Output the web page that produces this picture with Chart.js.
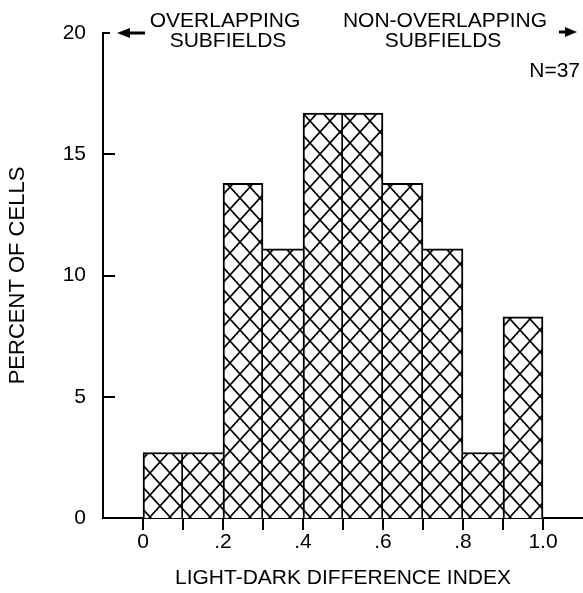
<!DOCTYPE html>
<html>
<head>
<meta charset="utf-8">
<script src="https://cdn.jsdelivr.net/npm/chart.js@4/dist/chart.umd.min.js"></script>
<style>
  html, body { margin: 0; padding: 0; background: #fff; }
  #wrap { width: 583px; height: 593px; }
</style>
</head>
<body>
<div id="wrap"><canvas id="c" width="583" height="593"></canvas></div>
<script>
// Histogram of the light-dark difference index (bins of width 0.1)
const binStarts = [0, 0.1, 0.2, 0.3, 0.4, 0.5, 0.6, 0.7, 0.8, 0.9];
const percentOfCells = [2.7, 2.7, 13.8, 11.1, 16.7, 16.7, 13.8, 11.1, 2.7, 8.3];
const binWidth = 0.1;

const xTickValues = [0, 0.1, 0.2, 0.3, 0.4, 0.5, 0.6, 0.7, 0.8, 0.9, 1.0];
const xTickLabels = ['0', '', '.2', '', '.4', '', '.6', '', '.8', '', '1.0'];
const yTickValues = [0, 5, 10, 15, 20];

const FONT = '"Liberation Sans", Arimo, Helvetica, Arial, sans-serif';

// Cross-hatched fill, anchored to the x = 0 / y = 0 corner of the plot
let hatch = null;
function crossHatch(chart) {
  if (hatch) return hatch;
  const w = 20, h = 22;
  const tile = document.createElement('canvas');
  tile.width = w; tile.height = h;
  const g = tile.getContext('2d');
  g.fillStyle = '#fff';
  g.fillRect(0, 0, w, h);
  g.strokeStyle = '#000';
  g.lineWidth = 1.7;
  for (const dx of [-w, 0, w]) {
    for (const dy of [-h, 0, h]) {
      g.beginPath();
      g.moveTo(dx, dy); g.lineTo(dx + w, dy + h);
      g.moveTo(dx + w, dy); g.lineTo(dx, dy + h);
      g.stroke();
    }
  }
  hatch = chart.ctx.createPattern(tile, 'repeat');
  const x0 = chart.scales.x.getPixelForValue(0);
  const y0 = chart.scales.y.getPixelForValue(0) - 3;
  hatch.setTransform(new DOMMatrix().translate(x0, y0));
  return hatch;
}

// Shared bar edges are drawn once, by the taller neighbour
function edgeWidths(ctx) {
  const i = ctx.dataIndex, v = percentOfCells, cur = v[i];
  const left = (i > 0 && v[i - 1] >= cur) ? 0 : 2;
  const right = (i < v.length - 1 && v[i + 1] > cur) ? 0 : 2;
  return { top: 2, left: left, right: right, bottom: 0 };
}

const decor = {
  id: 'decor',
  afterDraw(chart) {
    const { ctx, chartArea, scales } = chart;
    const ys = scales.y;
    const left = chartArea.left;
    ctx.save();
    ctx.strokeStyle = '#000';
    ctx.fillStyle = '#000';
    ctx.lineWidth = 2;
    ctx.lineCap = 'butt';

    // inward tick marks on the vertical axis
    yTickValues.forEach(v => {
      if (v === 0) return;
      const y = Math.round(ys.getPixelForValue(v));
      const len = v === 20 ? 7 : 12;
      ctx.beginPath();
      ctx.moveTo(left, y);
      ctx.lineTo(left + len, y);
      ctx.stroke();
    });

    const yTop = ys.getPixelForValue(20);

    // left-pointing arrow
    ctx.lineWidth = 3;
    ctx.beginPath();
    ctx.moveTo(left + 42, yTop);
    ctx.lineTo(left + 24, yTop);
    ctx.stroke();
    ctx.beginPath();
    ctx.moveTo(left + 14, yTop);
    ctx.lineTo(left + 27, yTop - 5);
    ctx.lineTo(left + 27, yTop + 5);
    ctx.closePath();
    ctx.fill();

    // right-pointing arrow
    const rx = 577;
    ctx.beginPath();
    ctx.moveTo(rx - 18, yTop - 1);
    ctx.lineTo(rx - 9, yTop - 1);
    ctx.stroke();
    ctx.beginPath();
    ctx.moveTo(rx, yTop - 1);
    ctx.lineTo(rx - 12, yTop - 6);
    ctx.lineTo(rx - 12, yTop + 4);
    ctx.closePath();
    ctx.fill();

    // region captions
    ctx.font = '21px ' + FONT;
    ctx.textBaseline = 'alphabetic';
    ctx.textAlign = 'center';
    ctx.fillText('OVERLAPPING', 225, 27);
    ctx.fillText('SUBFIELDS', 228, 47);
    ctx.fillText('NON-OVERLAPPING', 445, 27);
    ctx.fillText('SUBFIELDS', 443, 47);
    ctx.textAlign = 'right';
    ctx.fillText('N=37', 580, 77);
    ctx.restore();
  }
};

new Chart(document.getElementById('c'), {
  type: 'bar',
  data: {
    datasets: [{
      data: binStarts.map((b, i) => ({ x: b + binWidth / 2, y: percentOfCells[i] })),
      backgroundColor: (c) => crossHatch(c.chart),
      borderColor: '#000',
      borderWidth: edgeWidths,
      borderSkipped: false,
      barPercentage: 1,
      categoryPercentage: 1
    }]
  },
  options: {
    responsive: false,
    animation: false,
    devicePixelRatio: 1,
    layout: { padding: { top: 33, left: 0, right: 0, bottom: 0 } },
    plugins: { legend: { display: false }, tooltip: { enabled: false } },
    scales: {
      x: {
        type: 'linear',
        min: -0.1,
        max: 1.1,
        offset: false,
        afterBuildTicks: (s) => { s.ticks = xTickValues.map(v => ({ value: v })); },
        afterFit: (s) => { s.height = 75; },
        ticks: {
          autoSkip: false,
          maxRotation: 0,
          padding: 0,
          color: '#000',
          font: { family: FONT, size: 21 },
          callback: (v, i) => xTickLabels[i]
        },
        grid: {
          offset: false,
          drawOnChartArea: false,
          drawTicks: true,
          tickLength: 12,
          color: '#000',
          lineWidth: 2
        },
        border: { display: true, color: '#000', width: 2 },
        title: {
          display: true,
          text: 'LIGHT-DARK DIFFERENCE INDEX',
          color: '#000',
          font: { family: FONT, size: 21, lineHeight: 1.2 },
          padding: { top: 0, bottom: 2 }
        }
      },
      y: {
        min: 0,
        max: 20,
        afterBuildTicks: (s) => { s.ticks = yTickValues.map(v => ({ value: v })); },
        afterFit: (s) => { s.width = 103; },
        ticks: {
          padding: 17,
          color: '#000',
          font: { family: FONT, size: 21 }
        },
        grid: { display: false, drawTicks: false },
        border: { display: true, color: '#000', width: 2 },
        title: {
          display: true,
          text: 'PERCENT OF CELLS',
          color: '#000',
          font: { family: FONT, size: 22, lineHeight: 1.2 },
          padding: { top: 5, bottom: 0 }
        }
      }
    }
  },
  plugins: [decor]
});
</script>
</body>
</html>
